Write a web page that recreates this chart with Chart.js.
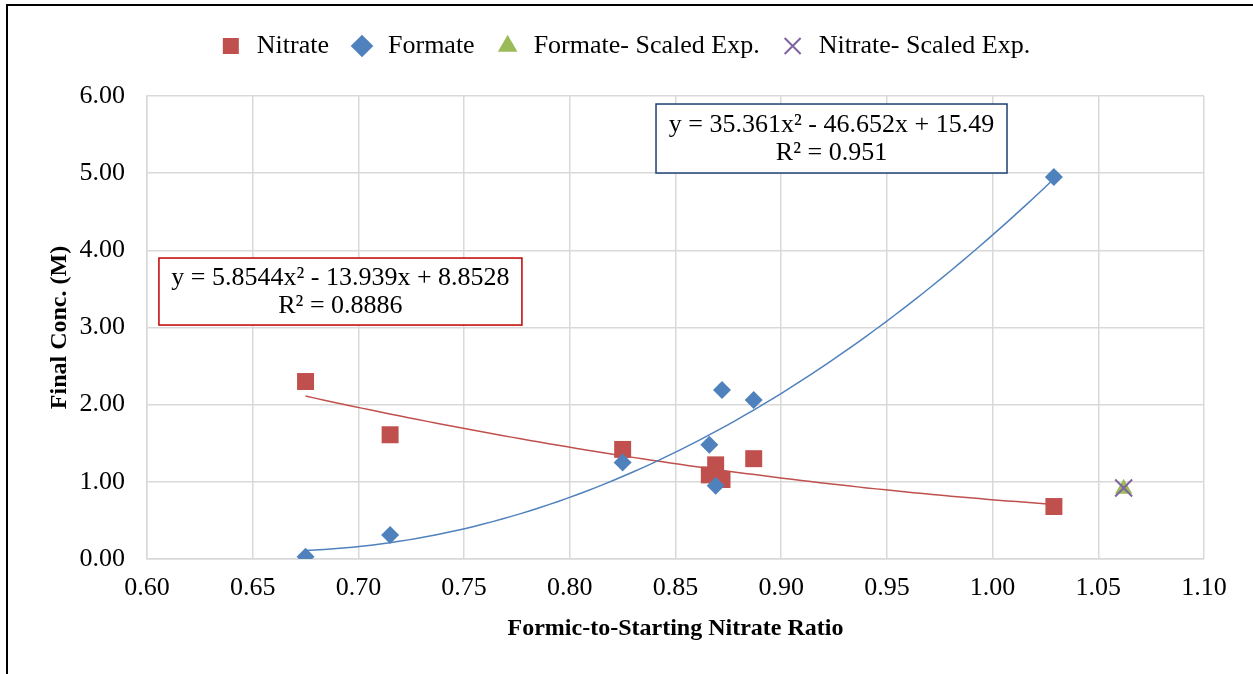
<!DOCTYPE html>
<html>
<head>
<meta charset="utf-8">
<script src="https://cdn.jsdelivr.net/npm/chart.js@4.4.1/dist/chart.umd.min.js"></script>
<style>
  html, body { margin: 0; padding: 0; background: #fff; }
  #wrap { width: 1253px; height: 674px; position: relative; }
</style>
</head>
<body>
<div id="wrap"><canvas id="ratio"></canvas></div>
<script>
// formic-to-starting nitrate ratio for each run
var ratioX = [0.675, 0.715, 0.825, 0.866, 0.869, 0.872, 0.887, 1.029];
// final concentrations (M)
var nitrateY = [2.30, 1.61, 1.42, 1.09, 1.22, 1.03, 1.30, 0.68];
var formateY = [0.03, 0.31, 1.25, 1.48, 0.95, 2.19, 2.06, 4.95];
// scaled experiment
var scaledX = [1.062];
var formateScaledY = [0.91];
var nitrateScaledY = [0.92];
// 2nd order polynomial trendlines [a, b, c] for a*x^2 + b*x + c
var nitrateFit = [5.8544, -13.939, 8.8528];
var formateFit = [35.361, -46.652, 15.49];
var nitrateR2 = '0.8886';
var formateR2 = '0.951';
var xTicks = [0.60, 0.65, 0.70, 0.75, 0.80, 0.85, 0.90, 0.95, 1.00, 1.05, 1.10];

var serif = "'Liberation Serif', 'Times New Roman', serif";

function pts(xs, ys) {
    return xs.map(function (x, i) { return { x: x, y: ys[i] }; });
}

function trend(c) {
    var lo = Math.min.apply(null, ratioX), hi = Math.max.apply(null, ratioX);
    var out = [];
    for (var i = 0; i <= 80; i++) {
        var x = lo + (hi - lo) * i / 80;
        out.push({ x: x, y: c[0] * x * x + c[1] * x + c[2] });
    }
    return out;
}

function eqText(c) {
    var s = 'y = ' + c[0] + 'x\u00b2';
    s += (c[1] < 0 ? ' - ' : ' + ') + Math.abs(c[1]) + 'x';
    s += (c[2] < 0 ? ' - ' : ' + ') + Math.abs(c[2]);
    return s;
}

// keeps room above the plot for the legend row
var legendSpace = {
    id: 'legendSpace',
    beforeInit: function (chart) {
        var fit = chart.legend.fit;
        chart.legend.fit = function () {
            fit.call(this);
            this.height = 83;
        };
    }
};

// outer frame + trendline equation boxes
var extras = {
    id: 'extras',
    afterDraw: function (chart) {
        var ctx = chart.ctx, xs = chart.scales.x, ys = chart.scales.y;
        ctx.save();
        ctx.strokeStyle = '#000';
        ctx.lineWidth = 2;
        ctx.beginPath();
        ctx.moveTo(7, 674);
        ctx.lineTo(7, 5);
        ctx.lineTo(1253, 5);
        ctx.stroke();

        var boxes = [
            { at: [0.9238, 5.449], w: 351, h: 69, color: '#1F3F73', lines: [eqText(formateFit), 'R\u00b2 = ' + formateR2] },
            { at: [0.6915, 3.466], w: 363, h: 67, color: '#C00000', lines: [eqText(nitrateFit), 'R\u00b2 = ' + nitrateR2] }
        ];
        ctx.font = '26px ' + serif;
        ctx.textAlign = 'center';
        ctx.textBaseline = 'middle';
        boxes.forEach(function (b) {
            var cx = xs.getPixelForValue(b.at[0]);
            var cy = ys.getPixelForValue(b.at[1]);
            ctx.fillStyle = '#fff';
            ctx.fillRect(cx - b.w / 2, cy - b.h / 2, b.w, b.h);
            ctx.strokeStyle = b.color;
            ctx.lineWidth = 1.5;
            ctx.strokeRect(cx - b.w / 2, cy - b.h / 2, b.w, b.h);
            ctx.fillStyle = '#000';
            ctx.fillText(b.lines[0], cx, cy - 13);
            ctx.fillText(b.lines[1], cx, cy + 15);
        });
        ctx.restore();
    }
};

var chart = new Chart(document.getElementById('ratio'), {
    type: 'scatter',
    data: {
        datasets: [{
                label: 'Nitrate',
                data: pts(ratioX, nitrateY),
                pointStyle: 'rect',
                pointRadius: 12,
                pointHoverRadius: 12,
                backgroundColor: '#C0504D',
                borderColor: '#C0504D',
                borderWidth: 0,
                order: 3
            },
            {
                label: 'Formate',
                data: pts(ratioX, formateY),
                pointStyle: 'rectRot',
                pointRadius: 9,
                pointHoverRadius: 9,
                backgroundColor: '#4F81BD',
                borderColor: '#4F81BD',
                borderWidth: 0,
                order: 2
            },
            {
                label: 'Formate- Scaled Exp.',
                data: pts(scaledX, formateScaledY),
                pointStyle: 'triangle',
                pointRadius: 10,
                pointHoverRadius: 10,
                backgroundColor: '#9BBB59',
                borderColor: '#9BBB59',
                borderWidth: 0,
                order: 1
            },
            {
                label: 'Nitrate- Scaled Exp.',
                data: pts(scaledX, nitrateScaledY),
                pointStyle: 'crossRot',
                pointRadius: 12,
                pointHoverRadius: 12,
                backgroundColor: '#8064A2',
                borderColor: '#8064A2',
                borderWidth: 2,
                order: 0
            },
            {
                label: 'trend-nitrate',
                data: trend(nitrateFit),
                showLine: true,
                pointRadius: 0,
                borderColor: '#C0504D',
                borderWidth: 1.5,
                fill: false,
                order: 5
            },
            {
                label: 'trend-formate',
                data: trend(formateFit),
                showLine: true,
                pointRadius: 0,
                borderColor: '#4F81BD',
                borderWidth: 1.5,
                fill: false,
                order: 4
            }]
    },
    options: {
        responsive: true,
        maintainAspectRatio: false,
        animation: false,
        layout: { padding: { top: 13, right: 49, bottom: 0, left: 44 } },
        plugins: {
            tooltip: { enabled: false },
            legend: {
                position: 'top',
                labels: {
                    usePointStyle: true,
                    boxHeight: 16,
                    padding: 20,
                    color: '#000',
                    font: { family: serif, size: 26 },
                    filter: function (item) { return item.text.indexOf('trend') !== 0; },
                    sort: function (a, b) { return a.datasetIndex - b.datasetIndex; }
                }
            }
        },
        scales: {
            x: {
                type: 'linear',
                min: 0.6,
                max: 1.1,
                afterFit: function (s) { s.height = 115; },
                afterBuildTicks: function (s) {
                    s.ticks = xTicks.map(function (v) { return { value: v }; });
                },
                grid: { color: '#D9D9D9', lineWidth: 1.5, drawTicks: false },
                border: { color: '#D9D9D9', width: 1.5 },
                ticks: {
                    padding: 14,
                    color: '#000',
                    font: { family: serif, size: 26 },
                    callback: function (v) { return Number(v).toFixed(2); }
                },
                title: {
                    display: true,
                    text: 'Formic-to-Starting Nitrate Ratio',
                    color: '#000',
                    font: { family: serif, size: 24, weight: 'bold' },
                    padding: { top: 0, bottom: 31 }
                }
            },
            y: {
                min: 0,
                max: 6,
                afterFit: function (s) { s.width = 103; },
                grid: { color: '#D9D9D9', lineWidth: 1.5, drawTicks: false },
                border: { color: '#D9D9D9', width: 1.5 },
                ticks: {
                    stepSize: 1,
                    padding: 22,
                    color: '#000',
                    font: { family: serif, size: 26 },
                    callback: function (v) { return Number(v).toFixed(2); }
                },
                title: {
                    display: true,
                    text: 'Final Conc. (M)',
                    color: '#000',
                    font: { family: serif, size: 24, weight: 'bold' },
                    padding: { top: 1, bottom: 0 }
                }
            }
        }
    },
    plugins: [legendSpace, extras]
});
</script>
</body>
</html>
